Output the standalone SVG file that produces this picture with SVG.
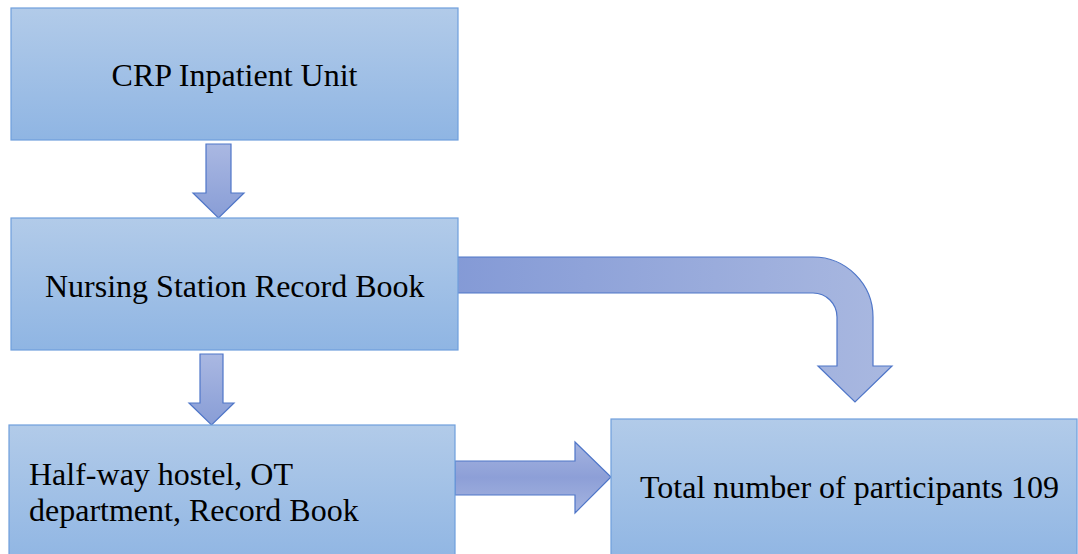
<svg xmlns="http://www.w3.org/2000/svg" width="1078" height="554" viewBox="0 0 1078 554">
<defs>
<linearGradient id="boxg" x1="0" y1="0" x2="0" y2="1">
<stop offset="0" stop-color="#b2cbe9"/>
<stop offset="1" stop-color="#8fb5e3"/>
</linearGradient>
<linearGradient id="arrv" x1="0" y1="0" x2="0" y2="1">
<stop offset="0" stop-color="#aab8e2"/>
<stop offset="1" stop-color="#889dd6"/>
</linearGradient>
<linearGradient id="arrh" x1="0" y1="0" x2="0" y2="1">
<stop offset="0" stop-color="#a5b4e0"/>
<stop offset="0.5" stop-color="#8d9fd7"/>
<stop offset="1" stop-color="#a5b4e0"/>
</linearGradient>
<linearGradient id="arrb" x1="455" y1="0" x2="892" y2="0" gradientUnits="userSpaceOnUse">
<stop offset="0" stop-color="#849ad6"/>
<stop offset="1" stop-color="#a9b8e0"/>
</linearGradient>
</defs>
<style>
.box{fill:url(#boxg);stroke:#6f9fdc;stroke-width:1.2}
.arr{stroke:#4f76c8;stroke-width:1.2;stroke-linejoin:miter}
.t{font-family:"Liberation Serif","Times New Roman",serif;font-size:32px;fill:#000}
</style>
<rect width="1078" height="554" fill="#ffffff"/>
<g id="connectors">
<path class="arr" fill="url(#arrv)" d="M206,144 L231,144 L231,193 L244,193 L218.5,218 L193,193 L206,193 Z"/>
<path class="arr" fill="url(#arrv)" d="M200,354 L223,354 L223,403 L234,403 L211.5,425 L189,403 L200,403 Z"/>
<path class="arr" fill="url(#arrh)" d="M455,461 L575,461 L575,442 L611,477 L575,513 L575,495 L455,495 Z"/>
<path class="arr" fill="url(#arrb)" d="M455,257 L813,257 A60,60 0 0 1 873,317 L873,366 L892,366 L855,402 L818,366 L837,366 L837,317 A24,24 0 0 0 813,293 L455,293 Z"/>
</g>
<g id="node-crp">
<rect class="box" x="11" y="8" width="447" height="132"/>
<text class="t" x="234.5" y="86" text-anchor="middle">CRP Inpatient Unit</text>
</g>
<g id="node-nursing">
<rect class="box" x="11" y="218" width="447" height="132"/>
<text class="t" x="45" y="297">Nursing Station Record Book</text>
</g>
<g id="node-halfway">
<rect class="box" x="9" y="425" width="446" height="140"/>
<text class="t" x="29" y="485">Half-way hostel, OT</text>
<text class="t" x="29" y="521">department, Record Book</text>
</g>
<g id="node-total">
<rect class="box" x="611" y="419" width="466" height="146"/>
<text class="t" x="640" y="498">Total number of participants 109</text>
</g>
</svg>
